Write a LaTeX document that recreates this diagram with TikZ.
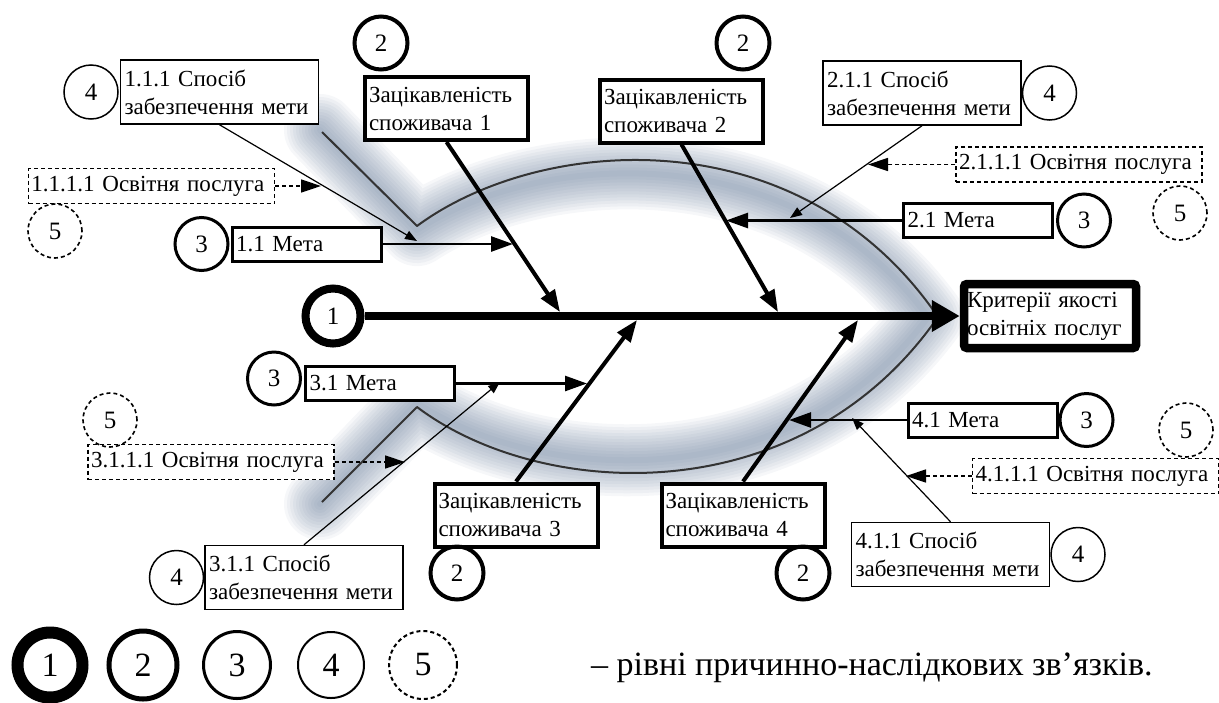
\documentclass[tikz,border=0pt]{standalone}
\usepackage{fontspec}
\setmainfont{Liberation Serif}
\usetikzlibrary{positioning,arrows.meta}
\definecolor{glow}{HTML}{5F7594}
\definecolor{outline}{HTML}{333333}
\newcommand{\boxfont}{\fontsize{11.5}{14}\selectfont}
\newcommand{\numfont}{\fontsize{12.5}{14}\selectfont}
\newcommand{\keyfont}{\fontsize{17}{19}\selectfont}
\tikzset{
  lvlone/.style={circle, draw, line width=4pt, minimum size=27.5pt, inner sep=0pt, font=\numfont},
  lvltwo/.style={circle, draw, line width=2pt, minimum size=26.5pt, inner sep=0pt, font=\numfont},
  lvlthree/.style={circle, draw, line width=1.5pt, minimum size=26.5pt, inner sep=0pt, font=\numfont},
  lvlfour/.style={circle, draw, line width=0.75pt, minimum size=27pt, inner sep=0pt, font=\numfont},
  lvlfive/.style={circle, draw, line width=0.8pt, dash pattern=on 2pt off 1.5pt,
    minimum size=27pt, inner sep=0pt, font=\numfont},
  headbox/.style={draw, fill=white, line width=4.25pt, rounded corners=1.5pt,
    text width=83pt, minimum height=32pt, inner xsep=1.5pt, align=left, font=\boxfont},
  causebox/.style={draw, fill=white, line width=2pt,
    text width=77.5pt, minimum height=31.5pt, inner xsep=2pt, align=left, font=\boxfont},
  goalbox/.style={draw, fill=white, line width=1.5pt,
    text width=70.5pt, minimum height=17pt, inner xsep=2pt, align=left, font=\boxfont},
  waybox/.style={draw, fill=white, line width=0.75pt,
    text width=95pt, minimum height=32pt, inner xsep=2pt, align=left, font=\boxfont},
  servbox/.style={draw, fill=white, line width=0.75pt, dash pattern=on 2pt off 1.5pt,
    text width=120pt, minimum height=17.5pt, inner xsep=1.5pt, align=left, font=\boxfont},
  spine/.style={line width=4pt, -{Triangle[length=14pt,width=15pt]}},
  bone/.style={line width=2pt, -{Triangle[length=11pt,width=8pt]}},
  goalarr/.style={line width=1.3pt, -{Triangle[length=11pt,width=7.5pt]}},
  wayarr/.style={line width=0.6pt, -{Triangle[length=6pt,width=4.5pt]}},
  servarr/.style={line width=0.8pt, dash pattern=on 2pt off 1.5pt,
    -{Triangle[length=10pt,width=6.5pt]}},
  keyone/.style={circle, draw, line width=6pt, minimum size=32.5pt, inner sep=0pt, font=\keyfont},
  keytwo/.style={circle, draw, line width=2.5pt, minimum size=34pt, inner sep=0pt, font=\keyfont},
  keythree/.style={circle, draw, line width=1.5pt, minimum size=33.5pt, inner sep=0pt, font=\keyfont},
  keyfour/.style={circle, draw, line width=1pt, minimum size=33pt, inner sep=0pt, font=\keyfont},
  keyfive/.style={circle, draw, line width=1pt, dash pattern=on 2pt off 1.5pt,
    minimum size=34pt, inner sep=0pt, font=\keyfont},
}

\begin{document}
\begin{tikzpicture}[x=0.5pt,y=-0.5pt]
\useasboundingbox (0,0) rectangle (1219,702);

  % fish body with its soft shadow (body part pulled a little inwards)
  \foreach \w in {3,6,...,36}
    \draw[glow, line width=\w pt, opacity=0.06, line join=round, line cap=round]
      (320,130) -- (417,230) .. controls (540,150) and (795,135) .. (928,317)
      .. controls (795,497) and (540,485) .. (417,403) -- (320,504);
  \draw[outline, line width=1pt, line join=round]
    (322,132) -- (417,226) .. controls (540,135) and (800,115) .. (938,317)
    .. controls (800,515) and (540,500) .. (417,407) -- (322,502);

  % head and tail
  \node[lvlone] (c1) at (333,316) {1};
  \node[headbox] (head) at (1050,316) {Критерії якості\\освітніх послуг};

  % level 2
  \node[causebox] (b1) at (446.5,108.5) {Зацікавленість\\споживача 1};
  \node[causebox] (b2) at (681.5,111) {Зацікавленість\\споживача 2};
  \node[causebox] (b3) at (516,515) {Зацікавленість\\споживача 3};
  \node[causebox] (b4) at (743,515) {Зацікавленість\\споживача 4};
  \node[lvltwo] (n1) at (381,43) {2};
  \node[lvltwo] (n2) at (743,43) {2};
  \node[lvltwo] (n3) at (457,573) {2};
  \node[lvltwo] (n4) at (803,573) {2};

  % level 3
  \node[goalbox] (m11) at (306.5,244) {1.1 Мета};
  \node[goalbox] (m21) at (978,220.5) {2.1 Мета};
  \node[goalbox] (m31) at (380,383.5) {3.1 Мета};
  \node[goalbox] (m41) at (982.5,420) {4.1 Мета};
  \node[lvlthree, left=0.5pt of m11] (k11) {3};
  \node[lvlthree, right=1pt of m21] (k21) {3};
  \node[lvlthree, left=1pt of m31, yshift=2.5pt] (k31) {3};
  \node[lvlthree, right=0pt of m41] (k41) {3};

  % level 4
  \node[waybox] (s111) at (219.5,92) {1.1.1 Спосіб\\забезпечення мети};
  \node[waybox] (s211) at (922,93) {2.1.1 Спосіб\\забезпечення мети};
  \node[waybox] (s311) at (304,577.5) {3.1.1 Спосіб\\забезпечення мети};
  \node[waybox] (s411) at (950.5,554.5) {4.1.1 Спосіб\\забезпечення мети};
  \node[lvlfour, left=0.5pt of s111] (r111) {4};
  \node[lvlfour, right=0pt of s211] (r211) {4};
  \node[lvlfour, left=0pt of s311] (r311) {4};
  \node[lvlfour, right=0pt of s411] (r411) {4};

  % level 5
  \node[servbox] (o1111) at (151.5,186) {1.1.1.1 Освітня послуга};
  \node[servbox] (o2111) at (1079,164.5) {2.1.1.1 Освітня послуга};
  \node[servbox] (o3111) at (211,462) {3.1.1.1 Освітня послуга};
  \node[servbox] (o4111) at (1095.5,476) {4.1.1.1 Освітня послуга};
  \node[lvlfive] (q1111) at (55,231) {5};
  \node[lvlfive] (q2111) at (1180,213) {5};
  \node[lvlfive] (q3111) at (110,420) {5};
  \node[lvlfive] (q4111) at (1186,430) {5};

  % where the arrows meet
  \coordinate (t1) at (560,312);
  \coordinate (t2) at (778,312);
  \coordinate (t3) at (637,320);
  \coordinate (t4) at (858,320);
  \coordinate (j11) at (513,244);
  \coordinate (j21) at (726,220.5);
  \coordinate (j31) at (587,383.5);
  \coordinate (j41) at (789,420);
  \coordinate (w11) at (417,241);
  \coordinate (w21) at (790,218);
  \coordinate (w31) at (500,382);
  \coordinate (w41) at (852,418);
  \coordinate (v11) at (321,186);
  \coordinate (v21) at (868,164.5);
  \coordinate (v31) at (405,462);
  \coordinate (v41) at (906,476);

  \draw[spine] (c1) -- (head);

  \draw[bone] (b1.south) -- (t1);
  \draw[bone] (b2.south) -- (t2);
  \draw[bone] (b3.north) -- (t3);
  \draw[bone] (b4.north) -- (t4);

  \draw[goalarr] (m11) -- (j11);
  \draw[goalarr] (m21) -- (j21);
  \draw[goalarr] (m31) -- (j31);
  \draw[goalarr] (m41) -- (j41);

  \draw[wayarr] (s111.south) -- (w11);
  \draw[wayarr] (s211.south) -- (w21);
  \draw[wayarr] (s311.north) -- (w31);
  \draw[wayarr] (s411.north) -- (w41);

  \draw[servarr] (o1111) -- (v11);
  \draw[servarr] (o2111) -- (v21);
  \draw[servarr] (o3111) -- (v31);
  \draw[servarr] (o4111) -- (v41);

  % key
  \node[keyone] (g1) at (50,665) {1};
  \node[keytwo] (g2) at (143,665) {2};
  \node[keythree] (g3) at (237,665) {3};
  \node[keyfour] (g4) at (331,665) {4};
  \node[keyfive] (g5) at (423,665) {5};
  \node[font=\keyfont, anchor=west] (cap) at (584,668)
    {– рівні причинно-наслідкових зв’язків.};

\end{tikzpicture}
\end{document}
